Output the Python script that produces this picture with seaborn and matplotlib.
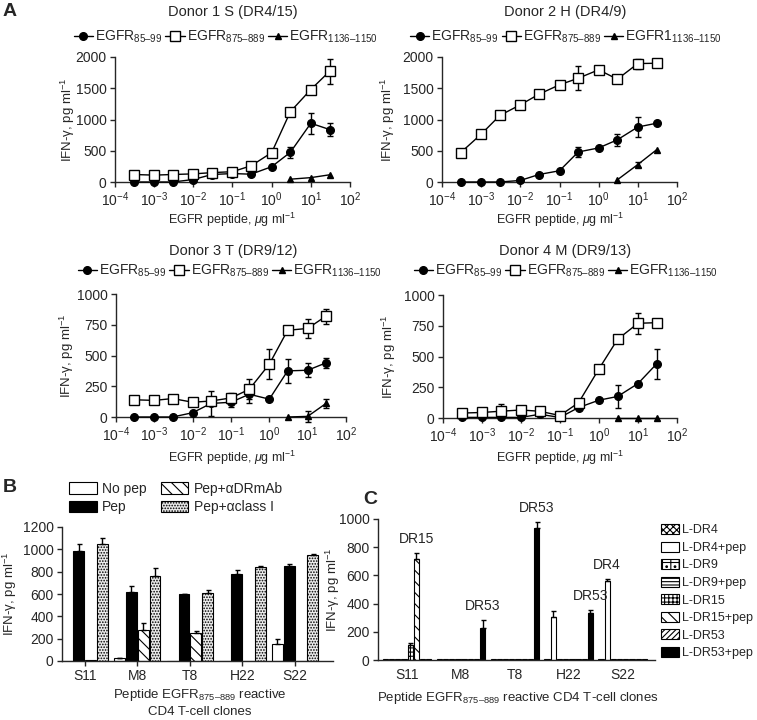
import numpy as np
import pandas as pd
import matplotlib
matplotlib.use("Agg")
import matplotlib.pyplot as plt
import seaborn as sns

# ---- panel A: dose response (IFN-gamma, pg/ml) ----
conc = [3e-4, 1e-3, 3e-3, 1e-2, 3e-2, 1e-1, 3e-1, 1, 3, 10, 30]
conc_high = [3, 10, 30]

d1_85 = [0, 0, 0, 40, 120, 135, 125, 245, 475, 940, 840]
d1_85_err = [0, 0, 0, 0, 0, 0, 0, 0, 85, 165, 110]
d1_875 = [120, 110, 120, 130, 150, 165, 260, 470, 1125, 1480, 1770]
d1_875_err = [0, 0, 0, 0, 0, 0, 0, 0, 0, 60, 200]
d1_1136 = [45, 70, 115]
d1_1136_err = [0, 0, 0]

d2_85 = [0, 0, 0, 25, 120, 180, 480, 545, 675, 880, 940]
d2_85_err = [0, 0, 0, 0, 30, 0, 80, 0, 100, 165, 0]
d2_875 = [470, 765, 1065, 1235, 1405, 1555, 1660, 1795, 1645, 1895, 1900]
d2_875_err = [0, 0, 0, 0, 0, 0, 190, 0, 50, 80, 0]
d2_1136 = [35, 280, 515]
d2_1136_err = [0, 40, 0]

d3_85 = [0, 0, 0, 35, 110, 120, 185, 145, 375, 380, 440]
d3_85_err = [0, 0, 0, 0, 100, 40, 75, 0, 95, 55, 40]
d3_875 = [140, 135, 150, 120, 130, 155, 225, 430, 705, 720, 820]
d3_875_err = [0, 0, 15, 20, 0, 40, 80, 125, 30, 75, 60]
d3_1136 = [0, 5, 110]
d3_1136_err = [0, 45, 35]

d4_85 = [5, 5, 5, 5, 30, 5, 85, 145, 175, 280, 440]
d4_85_err = [0, 0, 0, 0, 0, 0, 0, 0, 95, 0, 125]
d4_875 = [40, 45, 55, 65, 55, 20, 125, 400, 640, 770, 775]
d4_875_err = [0, 35, 60, 0, 0, 0, 0, 0, 0, 85, 0]
d4_1136 = [0, 0, 0]
d4_1136_err = [0, 0, 0]

donor_titles = ["Donor 1 S (DR4/15)", "Donor 2 H (DR4/9)", "Donor 3 T (DR9/12)", "Donor 4 M (DR9/13)"]
pep_labels = ["EGFR$_{85\u201399}$", "EGFR$_{875\u2013889}$", "EGFR$_{1136\u20131150}$"]
pep_labels_d2 = ["EGFR$_{85\u201399}$", "EGFR$_{875\u2013889}$", "EGFR1$_{1136\u20131150}$"]

# ---- panel B ----
clones = ["S11", "M8", "T8", "H22", "S22"]
b_conditions = ["No pep", "Pep", "Pep+\u03b1DRmAb", "Pep+\u03b1class I"]
b_nopep = [3, 23, 3, 3, 150]
b_nopep_err = [0, 5, 0, 0, 50]
b_pep = [985, 620, 598, 776, 848]
b_pep_err = [60, 52, 5, 35, 25]
b_drmab = [5, 280, 248, 3, 3]
b_drmab_err = [0, 64, 18, 0, 0]
b_class1 = [1045, 758, 612, 840, 948]
b_class1_err = [55, 76, 23, 8, 8]

# ---- panel C ----
c_conditions = ["L-DR4", "L-DR4+pep", "L-DR9", "L-DR9+pep",
                "L-DR15", "L-DR15+pep", "L-DR53", "L-DR53+pep"]
c_values = {
    "S11": [6, 6, 6, 6, 106, 714, 6, 6],
    "M8": [6, 6, 6, 6, 6, 6, 6, 229],
    "T8": [6, 6, 6, 6, 6, 6, 6, 934],
    "H22": [6, 303, 6, 6, 6, 6, 6, 336],
    "S22": [6, 560, 6, 6, 6, 6, 6, 6],
}
c_errors = {
    "S11": [0, 0, 0, 0, 12, 47, 0, 0],
    "M8": [0, 0, 0, 0, 0, 0, 0, 54],
    "T8": [0, 0, 0, 0, 0, 0, 0, 43],
    "H22": [0, 45, 0, 0, 0, 0, 0, 19],
    "S22": [0, 17, 0, 0, 0, 0, 0, 0],
}
c_restriction = {"S11": ("L-DR15+pep", "DR15"), "M8": ("L-DR53+pep", "DR53"),
                 "T8": ("L-DR53+pep", "DR53"), "H22": ("L-DR53+pep", "DR53"),
                 "S22": ("L-DR4+pep", "DR4")}

W, H = 757, 720
sns.set_theme(style="ticks")
plt.rcParams['font.family'] = ['Liberation Sans', 'DejaVu Sans']
plt.rcParams['mathtext.fontset'] = 'custom'
plt.rcParams['mathtext.rm'] = 'Liberation Sans'
plt.rcParams['mathtext.it'] = 'Liberation Sans:italic'
plt.rcParams['hatch.linewidth'] = 0.8
plt.rcParams['axes.linewidth'] = 1.0
plt.rcParams['xtick.major.size'] = 3.5
plt.rcParams['ytick.major.size'] = 3.5
plt.rcParams['xtick.major.pad'] = 2.5
plt.rcParams['ytick.major.pad'] = 2.5

TICK = 10
fig = plt.figure(figsize=(W / 100, H / 100), dpi=100)


def rect(l, t, r, b):
    return [l / W, 1 - b / H, (r - l) / W, (b - t) / H]


def ftext(x, y, s, **kw):
    fig.text(x / W, 1 - y / H, s, ha='center', va='center', **kw)


def place_ylabel(ax, box, right_px):
    # right edge of the rotated label, in figure pixels
    ax.yaxis.set_label_coords((right_px - box[0]) / (box[2] - box[0]), 0.5)


ylab = "IFN-\u03b3, pg ml$^{-1}$"
xlab = "EGFR peptide, $\\mu$g ml$^{-1}$"


def draw_donor(box, title, title_xy, leg_xy, xlab_xy, ylab_right, series, labels, ymax, ystep):
    ax = fig.add_axes(rect(*box))
    styles = [("o", "black", 5.5), ("s", "white", 6.5), ("^", "black", 4)]
    for (xs, ys, errs), lab, (mk, face, ms) in zip(series, labels, styles):
        sns.lineplot(x=xs, y=ys, ax=ax, color="black", marker=mk, markerfacecolor=face,
                     markeredgecolor="black", markeredgewidth=1, markersize=ms,
                     linewidth=1, label=lab, clip_on=False, zorder=3)
        xs_e = [x for x, e in zip(xs, errs) if e > 0]
        ys_e = [y for y, e in zip(ys, errs) if e > 0]
        es = [e for e in errs if e > 0]
        if es:
            ax.errorbar(xs_e, ys_e, yerr=es, fmt="none", ecolor="black", elinewidth=1,
                        capsize=2.5, capthick=1, clip_on=False, zorder=2)
    ax.set_xscale("log")
    ax.set_xlim(1e-4, 1e2)
    ax.set_xticks([10.0 ** k for k in range(-4, 3)])
    ax.minorticks_off()
    ax.set_ylim(0, ymax)
    ax.set_yticks(np.arange(0, ymax + 1, ystep))
    ax.tick_params(labelsize=TICK, width=1)
    ax.set_xlabel("")
    ax.set_ylabel(ylab, fontsize=9.5)
    place_ylabel(ax, box, ylab_right)
    sns.despine(ax=ax)
    ax.legend(loc="center", bbox_to_anchor=(leg_xy[0] / W, 1 - leg_xy[1] / H),
              bbox_transform=fig.transFigure, ncol=3, frameon=False, fontsize=10,
              handlelength=1.4, handletextpad=0.15, columnspacing=0.2, borderaxespad=0)
    ftext(*title_xy, title, fontsize=10.5)
    ftext(*xlab_xy, xlab, fontsize=9)
    return ax


draw_donor((115, 57, 350, 182), donor_titles[0], (233, 12), (226, 37), (232, 220), 77,
           [(conc, d1_85, d1_85_err), (conc, d1_875, d1_875_err), (conc_high, d1_1136, d1_1136_err)],
           pep_labels, 2000, 500)
draw_donor((442, 57, 677, 182), donor_titles[1], (565, 12), (566, 37), (560, 220), 397,
           [(conc, d2_85, d2_85_err), (conc, d2_875, d2_875_err), (conc_high, d2_1136, d2_1136_err)],
           pep_labels_d2, 2000, 500)
draw_donor((116, 294, 346, 417), donor_titles[2], (233, 251), (230, 271), (232, 458), 76,
           [(conc, d3_85, d3_85_err), (conc, d3_875, d3_875_err), (conc_high, d3_1136, d3_1136_err)],
           pep_labels, 1000, 250)
draw_donor((443, 295, 677, 418), donor_titles[3], (565, 251), (566, 271), (560, 458), 398,
           [(conc, d4_85, d4_85_err), (conc, d4_875, d4_875_err), (conc_high, d4_1136, d4_1136_err)],
           pep_labels, 1000, 250)


def add_bar_errors(ax, bars, errs_by_cond, conds):
    for cond, cont in zip(conds, bars):
        for p in cont.patches:
            idx = int(round(p.get_x() + p.get_width() / 2))
            e = errs_by_cond[cond][idx]
            if e > 0:
                ax.errorbar(p.get_x() + p.get_width() / 2, p.get_height(), yerr=[[0], [e]],
                            fmt="none", ecolor="black", elinewidth=1, capsize=1.8, capthick=1)


# ---- panel B ----
b_box = (62, 527, 333, 661)
axb = fig.add_axes(rect(*b_box))
b_df = pd.DataFrame({
    "clone": clones * 4,
    "condition": [c for c in b_conditions for _ in clones],
    "value": b_nopep + b_pep + b_drmab + b_class1,
})
sns.barplot(data=b_df, x="clone", y="value", hue="condition", hue_order=b_conditions,
            palette=["white", "black", "white", "#ececec"], edgecolor="black", linewidth=0.8,
            width=0.9, gap=0.08, errorbar=None, legend=False, ax=axb)
b_bars = list(axb.containers)
b_hatches = [None, None, "\\\\\\", "......"]
for cont, h in zip(b_bars, b_hatches):
    for p in cont.patches:
        p.set_hatch(h)
add_bar_errors(axb, b_bars, dict(zip(b_conditions, [b_nopep_err, b_pep_err, b_drmab_err, b_class1_err])),
               b_conditions)
axb.set_ylim(0, 1200)
axb.set_yticks(range(0, 1201, 200))
axb.set_xlim(-0.43, 4.72)
axb.tick_params(labelsize=TICK, width=1)
axb.set_xlabel("")
axb.set_ylabel(ylab, fontsize=9.5)
place_ylabel(axb, b_box, 19)
sns.despine(ax=axb)
axb.legend(handles=[c.patches[0] for c in b_bars], labels=b_conditions,
           loc="center", bbox_to_anchor=(176 / W, 1 - 498 / H), bbox_transform=fig.transFigure,
           ncol=2, frameon=False, fontsize=10, handlelength=2.0, handleheight=0.9,
           handletextpad=0.4, columnspacing=1.0, labelspacing=0.3)
ftext(200, 695, "Peptide EGFR$_{875\u2013889}$ reactive", fontsize=9.5)
ftext(200, 712, "CD4 T-cell clones", fontsize=9.5)

# ---- panel C ----
c_box = (378, 519, 655, 660)
axc = fig.add_axes(rect(*c_box))
c_df = pd.DataFrame({
    "clone": [cl for cl in clones for _ in c_conditions],
    "condition": c_conditions * len(clones),
    "value": [v for cl in clones for v in c_values[cl]],
})
c_colors = ["white", "white", "white", "white", "white", "white", "white", "black"]
sns.barplot(data=c_df, x="clone", y="value", hue="condition", hue_order=c_conditions,
            palette=c_colors, edgecolor="black", linewidth=0.8, width=0.92, gap=0.15,
            errorbar=None, legend=False, ax=axc)
c_bars = list(axc.containers)
c_hatches = ["xxxxx", None, "++..", "-----", "++++", "\\\\\\", "//////", None]
for cont, h in zip(c_bars, c_hatches):
    for p in cont.patches:
        p.set_hatch(h)
c_err_by_cond = {cond: [c_errors[cl][i] for cl in clones] for i, cond in enumerate(c_conditions)}
add_bar_errors(axc, c_bars, c_err_by_cond, c_conditions)
for cond, cont in zip(c_conditions, c_bars):
    for p in cont.patches:
        idx = int(round(p.get_x() + p.get_width() / 2))
        cl = clones[idx]
        if c_restriction[cl][0] == cond:
            top = p.get_height() + c_errors[cl][c_conditions.index(cond)]
            axc.annotate(c_restriction[cl][1], (p.get_x() + p.get_width() / 2, top),
                         xytext=(0, 10), textcoords="offset points", ha="center", va="center",
                         fontsize=10, annotation_clip=False)
axc.set_ylim(0, 1000)
axc.set_yticks(range(0, 1001, 200))
axc.set_xlim(-0.54, 4.6)
axc.tick_params(labelsize=TICK, width=1)
axc.tick_params(axis="x", length=0, pad=6)
axc.set_xlabel("")
axc.set_ylabel(ylab, fontsize=9.5)
place_ylabel(axc, c_box, 342)
sns.despine(ax=axc)
axc.legend(handles=[c.patches[0] for c in c_bars], labels=c_conditions,
           loc="upper left", bbox_to_anchor=(661 / W, 1 - 524 / H), bbox_transform=fig.transFigure,
           ncol=1, frameon=False, fontsize=9, handlelength=1.4, handleheight=0.85,
           handletextpad=0.3, labelspacing=0.42, borderaxespad=0, borderpad=0)
ftext(518, 698, "Peptide EGFR$_{875\u2013889}$ reactive CD4 T-cell clones", fontsize=9.5)

# panel letters
ftext(10, 12, "A", fontsize=14, fontweight="bold")
ftext(10, 488, "B", fontsize=14, fontweight="bold")
ftext(370, 500, "C", fontsize=14, fontweight="bold")

fig.savefig("out.png", dpi=100)
